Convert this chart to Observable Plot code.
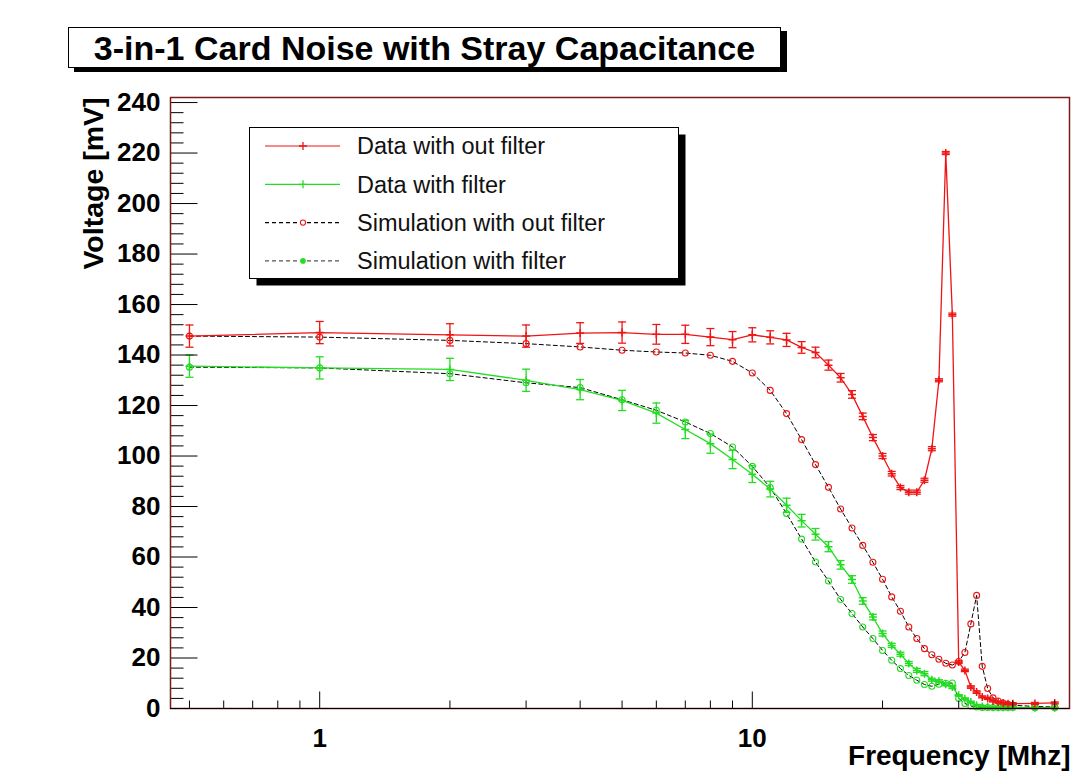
<!DOCTYPE html>
<html>
<head>
<meta charset="utf-8">
<script src="https://cdn.jsdelivr.net/npm/d3@7"></script>
<script src="https://cdn.jsdelivr.net/npm/@observablehq/plot@0.6"></script>
<style>
  body { margin: 0; background: #fff; font-family: "Liberation Sans", Arial, sans-serif; }
  #wrap { position: relative; width: 1077px; height: 773px; overflow: hidden; background: #fff; }
  #chart { position: absolute; left: 0; top: 0; }
  #title { position: absolute; left: 68px; top: 27px; width: 711px; height: 39px; border: 1px solid #000;
           background: #fff; box-shadow: 6px 4px 0 #000; font-weight: bold; font-size: 34px;
           line-height: 40px; text-align: center; color: #000; white-space: nowrap; }
  #legend { position: absolute; left: 249px; top: 127px; }
</style>
</head>
<body>
<div id="wrap">
  <div id="chart"></div>
  <div id="title">3-in-1 Card Noise with Stray Capacitance</div>
  <svg id="legend" width="445" height="165"></svg>
</div>
<script>
// ---------- data ----------
const freq = [0.5, 1, 2, 3, 4, 5, 6, 7, 8, 9, 10, 11, 12, 13, 14, 15, 16, 17, 18, 19, 20,
  21, 22, 23, 24, 25, 26, 27, 28, 29, 30, 31, 32, 33, 34, 35, 36, 37, 38, 39, 40, 45, 50];

const dataNoFilter = [147.5, 148.9, 148, 147.5, 148.7, 148.9, 148.2, 148.2, 147.1, 146.1, 148,
  147, 146, 143, 141, 136, 131, 124.4, 115.7, 107.3, 100, 93, 87.5, 85.7, 85.7, 90.4, 102.9,
  130, 220, 156, 18.4, 15.1, 8.5, 6.5, 4.6, 4, 3, 2.6, 2.2, 1.9, 1.9, 2, 2.2];
const dataNoFilterErr = [4.4, 4.4, 4.4, 4.4, 4.1, 4.2, 3.9, 3.6, 3.4, 3.2, 2.8, 2.6, 2.6, 2.3,
  2.1, 2, 1.7, 1.5, 1.3, 1.2, 1, 0.9, 0.8, 0.8, 0.8, 0.8, 0.8, 0.6, 0.6, 0.6, 0.5, 0.5, 0.5,
  0.5, 0.4, 0.4, 0.4, 0.4, 0.4, 0.4, 0.4, 0.4, 0.4];

const dataFilter = [135.6, 134.9, 134.3, 130, 126.3, 122, 117, 110.5, 104.9, 98.6, 92.8, 86.9,
  80.5, 74.4, 69, 64.1, 56.9, 51.1, 42.6, 36.2, 29.7, 25, 21.5, 17.8, 15.1, 13.8, 11.4, 10.8,
  9.6, 8.5, 5.2, 3.9, 2.6, 1.3, 0.8, 0.6, 0.5, 0.5, 0.5, 0.5, 0.5, 0.3, 0.3];
const dataFilterErr = [4.4, 4.4, 4.4, 4.4, 4, 4, 4, 3.6, 3.8, 3.6, 3.3, 3.1, 2.8, 2.5, 2.3, 2,
  1.7, 1.5, 1.3, 1.1, 1, 0.8, 0.8, 0.8, 0.8, 0.8, 0.6, 0.6, 0.6, 0.6, 0.3, 0.3, 0.3, 0.3, 0.3,
  0.3, 0.3, 0.3, 0.3, 0.3, 0.3, 0.3, 0.3];

const simNoFilter = [147.5, 147.1, 145.8, 144.5, 143.2, 141.9, 141.2, 140.8, 139.9, 137.5, 132.9,
  126, 116.8, 106.5, 96.6, 87.6, 79, 71.5, 64.6, 57.9, 51.2, 44.2, 38.5, 32.3, 27.7, 23.7, 21.3,
  19.5, 17.9, 17.2, 18.6, 22.2, 33.5, 44.8, 16.7, 7.9, 4.2, 3, 2.2, 1.7, 1.3, 0.8, 0.6];

const simFilter = [135.2, 134.9, 132.6, 129, 127.1, 122.3, 118.1, 113.5, 108.9, 103.6, 95.9, 87.5,
  77.2, 67.1, 58, 50.5, 43.2, 37.6, 32.3, 27.7, 23, 19.1, 15.8, 13.1, 11.2, 9.5, 8.8, 9.6, 10,
  10.1, 4, 2, 1, 0.6, 0.4, 0.4, 0.4, 0.4, 0.4, 0.4, 0.4, 0.3, 0.3];

const xTickLabels = [1, 10];
const xMajorTicks = [1, 10];
const xMinorTicks = [0.5, 0.6, 0.7, 0.8, 0.9, 2, 3, 4, 5, 6, 7, 8, 9, 20, 30, 40, 50];
const yTickLabels = [0, 20, 40, 60, 80, 100, 120, 140, 160, 180, 200, 220, 240];
const yMinorTicks = d3.range(0, 241, 4).filter(v => v % 20 !== 0);

const seriesNames = ["Data with out filter", "Data with filter",
  "Simulation with out filter", "Simulation with filter"];

// ---------- styles ----------
const RED = "#f01414";
const GREEN = "#22dd22";
const xDomain = [0.452, 54.1];
const yDomain = [0, 242];

const rows = freq.map((f, i) => ({
  f,
  dn: dataNoFilter[i], dnE: dataNoFilterErr[i],
  df: dataFilter[i], dfE: dataFilterErr[i],
  sn: simNoFilter[i], sf: simFilter[i]
}));

const len = s => Math.sqrt(s / Math.PI);
const hTick = { draw(c, s) { const l = len(s); c.moveTo(0, 0); c.lineTo(l, 0); } };
const vTick = { draw(c, s) { const l = len(s); c.moveTo(0, 0); c.lineTo(0, -l); } };
const plusSym = { draw(c, s) { const l = len(s); c.moveTo(-l, 0); c.lineTo(l, 0); c.moveTo(0, -l); c.lineTo(0, l); } };
const capSym = { draw(c, s) { const l = len(s); c.moveTo(-l, 0); c.lineTo(l, 0); } };

function dataMarks(key, errKey, color) {
  return [
    Plot.line(rows, { x: "f", y: key, stroke: color, strokeWidth: 1.3 }),
    Plot.ruleX(rows, { x: "f", y1: d => d[key] - d[errKey], y2: d => d[key] + d[errKey], stroke: color, strokeWidth: 1.3 }),
    Plot.dot(rows, { x: "f", y: d => d[key] + d[errKey], symbol: capSym, r: 4, stroke: color, fill: "none", strokeWidth: 1.3 }),
    Plot.dot(rows, { x: "f", y: d => d[key] - d[errKey], symbol: capSym, r: 4, stroke: color, fill: "none", strokeWidth: 1.3 }),
    Plot.dot(rows, { x: "f", y: key, symbol: plusSym, r: 4, stroke: color, fill: "none", strokeWidth: 1.5 })
  ];
}

const chart = Plot.plot({
  width: 1077,
  height: 773,
  marginLeft: 170,
  marginRight: 8,
  marginTop: 97,
  marginBottom: 65,
  style: { fontFamily: "'Liberation Sans', Arial, sans-serif", fontWeight: "bold", fontSize: "26px", color: "#000", background: "#fff" },
  x: { type: "log", domain: xDomain, label: null },
  y: { domain: yDomain, label: null },
  marks: [
    // simulations
    Plot.line(rows, { x: "f", y: "sn", stroke: "#000", strokeWidth: 1, strokeDasharray: "4,3" }),
    Plot.dot(rows, { x: "f", y: "sn", r: 3, stroke: RED, fill: "none", strokeWidth: 1.1 }),
    Plot.line(rows, { x: "f", y: "sf", stroke: "#000", strokeWidth: 1, strokeDasharray: "4,3" }),
    Plot.dot(rows, { x: "f", y: "sf", r: 3, stroke: GREEN, fill: "none", strokeWidth: 1.1 }),
    // measured data
    ...dataMarks("df", "dfE", GREEN),
    ...dataMarks("dn", "dnE", RED),
    // inward ticks
    Plot.dot(xMajorTicks, { x: d => d, y: yDomain[0], symbol: vTick, r: 17, stroke: "#000", fill: "none", strokeWidth: 1 }),
    Plot.dot(xMinorTicks, { x: d => d, y: yDomain[0], symbol: vTick, r: 8, stroke: "#000", fill: "none", strokeWidth: 1 }),
    Plot.dot(yTickLabels, { x: xDomain[0], y: d => d, symbol: hTick, r: 27, stroke: "#000", fill: "none", strokeWidth: 1 }),
    Plot.dot(yMinorTicks, { x: xDomain[0], y: d => d, symbol: hTick, r: 13, stroke: "#000", fill: "none", strokeWidth: 1 }),
    // frame
    Plot.frame({ stroke: "#7a1a1a", strokeWidth: 1.5 }),
    Plot.ruleY([yDomain[0]], { stroke: "#000", strokeWidth: 1 }),
    // tick labels
    Plot.axisX(xTickLabels, { tickSize: 0, tickPadding: 20, tickFormat: d => String(d), label: null, fontSize: 26, fontWeight: "bold" }),
    Plot.axisY(yTickLabels, { tickSize: 0, tickPadding: 10, label: null, fontSize: 26, fontWeight: "bold" }),
    // axis titles
    Plot.text(["Frequency [Mhz]"], { frameAnchor: "bottom-right", text: d => d, dx: 1, dy: 48, textAnchor: "end", lineAnchor: "middle", fontSize: 28, fontWeight: "bold", fill: "#000" }),
    Plot.text(["Voltage [mV]"], { frameAnchor: "top-left", text: d => d, rotate: -90, dx: -77, dy: 0, textAnchor: "end", lineAnchor: "middle", fontSize: 28.5, fontWeight: "bold", fill: "#000" })
  ]
});
document.getElementById("chart").appendChild(chart);

// ---------- legend (drawn with d3) ----------
const lg = d3.select("#legend");
const W = 429, H = 151;
lg.append("rect").attr("x", 7.5).attr("y", 7.5).attr("width", W).attr("height", H).attr("fill", "#000");
lg.append("rect").attr("x", 0.5).attr("y", 0.5).attr("width", W).attr("height", H).attr("fill", "#fff").attr("stroke", "#000").attr("stroke-width", 1);
const legendStyles = [
  { stroke: RED, dash: null, marker: "plus", mColor: RED },
  { stroke: GREEN, dash: null, marker: "plus", mColor: GREEN },
  { stroke: "#000", dash: "4,3", marker: "open", mColor: RED },
  { stroke: "#555", dash: "4,3", marker: "filled", mColor: GREEN }
];
seriesNames.forEach((name, i) => {
  const y = 19 + i * 38.3;
  const s = legendStyles[i];
  const ln = lg.append("line").attr("x1", 16).attr("x2", 91).attr("y1", y).attr("y2", y)
    .attr("stroke", s.stroke).attr("stroke-width", 1.2);
  if (s.dash) ln.attr("stroke-dasharray", s.dash);
  if (s.marker === "plus") {
    lg.append("path").attr("d", `M50,${y}H58M54,${y - 4}V${y + 4}`).attr("stroke", s.mColor).attr("stroke-width", 1.3);
  } else if (s.marker === "open") {
    lg.append("circle").attr("cx", 54).attr("cy", y).attr("r", 2.6).attr("fill", "#fff").attr("stroke", s.mColor).attr("stroke-width", 1.1);
  } else {
    lg.append("circle").attr("cx", 54).attr("cy", y).attr("r", 2.8).attr("fill", s.mColor);
  }
  lg.append("text").attr("x", 108).attr("y", y).attr("dy", "0.35em")
    .attr("font-family", "'Liberation Sans', Arial, sans-serif").attr("font-size", 23.5)
    .attr("fill", "#111").text(name);
});
</script>
</body>
</html>
